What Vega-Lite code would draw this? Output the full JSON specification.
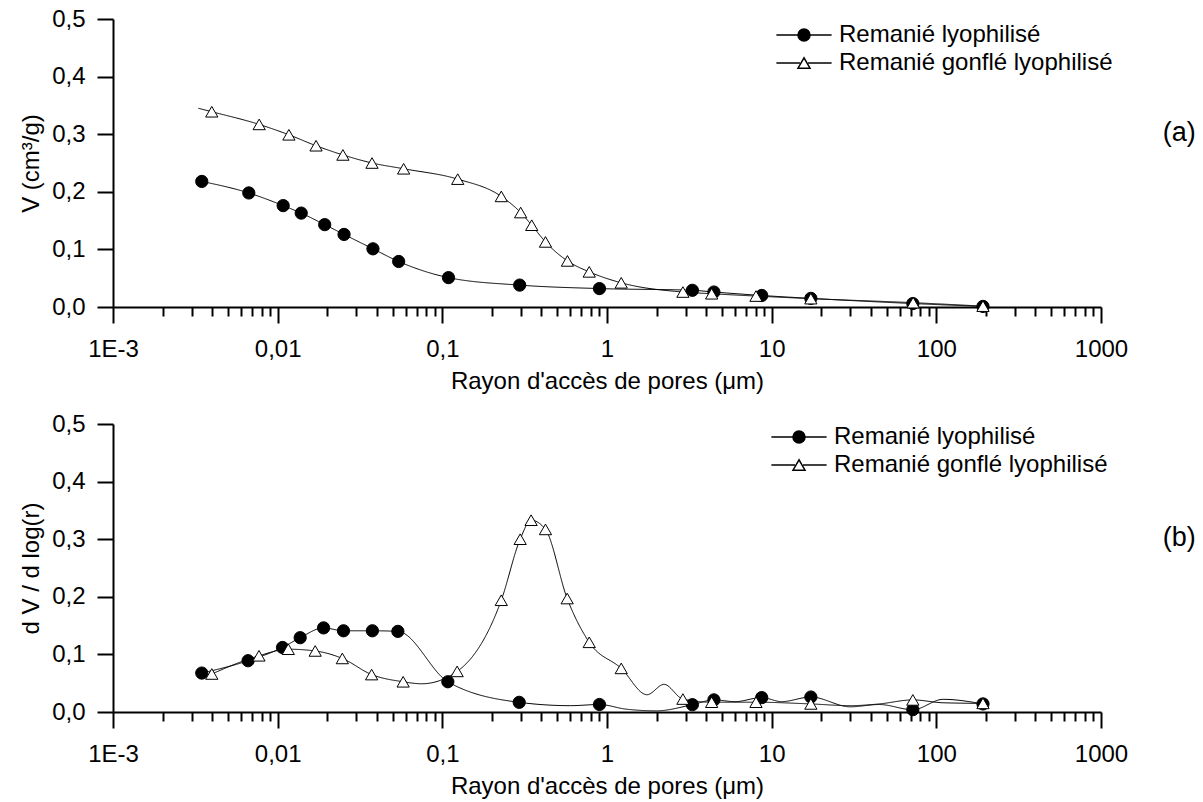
{
  "$schema": "https://vega.github.io/schema/vega-lite/v6.json",
  "padding": {"left": 19, "top": 7, "right": 5, "bottom": 5},
  "spacing": 19,
  "resolve": {
    "scale": {"strokeDash": "independent", "shape": "independent", "fill": "independent"},
    "legend": {"strokeDash": "independent", "shape": "independent", "fill": "independent"}
  },
  "config": {
    "font": "Liberation Sans",
    "view": {"stroke": null},
    "axis": {
      "domainColor": "black", "domainWidth": 2, "tickColor": "black", "tickWidth": 2,
      "labelColor": "black", "labelFontSize": 24, "labelFont": "Liberation Sans",
      "titleColor": "black", "titleFontSize": 24, "titleFontWeight": "normal", "titleFont": "Liberation Sans",
      "grid": false, "labelOverlap": false, "labelFlush": false
    },
    "axisX": {"labelPadding": 14, "titlePadding": 8},
    "axisY": {"labelPadding": 12, "titlePadding": 8},
    "legend": {"labelFontSize": 24, "labelColor": "black", "labelFont": "Liberation Sans", "labelLimit": 600}
  },
  "datasets": {
    "a": [
      {"x": 0.00346, "y": 0.218, "s": "Remanié lyophilisé", "m": 1},
      {"x": 0.00668, "y": 0.198, "s": "Remanié lyophilisé", "m": 1},
      {"x": 0.0108, "y": 0.176, "s": "Remanié lyophilisé", "m": 1},
      {"x": 0.0139, "y": 0.163, "s": "Remanié lyophilisé", "m": 1},
      {"x": 0.0193, "y": 0.143, "s": "Remanié lyophilisé", "m": 1},
      {"x": 0.0253, "y": 0.126, "s": "Remanié lyophilisé", "m": 1},
      {"x": 0.0379, "y": 0.101, "s": "Remanié lyophilisé", "m": 1},
      {"x": 0.0543, "y": 0.079, "s": "Remanié lyophilisé", "m": 1},
      {"x": 0.109, "y": 0.051, "s": "Remanié lyophilisé", "m": 1},
      {"x": 0.295, "y": 0.038, "s": "Remanié lyophilisé", "m": 1},
      {"x": 0.9, "y": 0.032, "s": "Remanié lyophilisé", "m": 1},
      {"x": 3.3, "y": 0.029, "s": "Remanié lyophilisé", "m": 1},
      {"x": 4.46, "y": 0.026, "s": "Remanié lyophilisé", "m": 1},
      {"x": 8.7, "y": 0.02, "s": "Remanié lyophilisé", "m": 1},
      {"x": 17.3, "y": 0.015, "s": "Remanié lyophilisé", "m": 1},
      {"x": 72, "y": 0.006, "s": "Remanié lyophilisé", "m": 1},
      {"x": 192, "y": 0.001, "s": "Remanié lyophilisé", "m": 1},
      {"x": 0.0033, "y": 0.345, "s": "Remanié gonflé lyophilisé", "m": 0},
      {"x": 0.00398, "y": 0.339, "s": "Remanié gonflé lyophilisé", "m": 1},
      {"x": 0.00772, "y": 0.317, "s": "Remanié gonflé lyophilisé", "m": 1},
      {"x": 0.0117, "y": 0.299, "s": "Remanié gonflé lyophilisé", "m": 1},
      {"x": 0.0171, "y": 0.28, "s": "Remanié gonflé lyophilisé", "m": 1},
      {"x": 0.0249, "y": 0.264, "s": "Remanié gonflé lyophilisé", "m": 1},
      {"x": 0.0374, "y": 0.25, "s": "Remanié gonflé lyophilisé", "m": 1},
      {"x": 0.0582, "y": 0.24, "s": "Remanié gonflé lyophilisé", "m": 1},
      {"x": 0.124, "y": 0.222, "s": "Remanié gonflé lyophilisé", "m": 1},
      {"x": 0.228, "y": 0.192, "s": "Remanié gonflé lyophilisé", "m": 1},
      {"x": 0.299, "y": 0.164, "s": "Remanié gonflé lyophilisé", "m": 1},
      {"x": 0.349, "y": 0.142, "s": "Remanié gonflé lyophilisé", "m": 1},
      {"x": 0.423, "y": 0.113, "s": "Remanié gonflé lyophilisé", "m": 1},
      {"x": 0.575, "y": 0.08, "s": "Remanié gonflé lyophilisé", "m": 1},
      {"x": 0.78, "y": 0.061, "s": "Remanié gonflé lyophilisé", "m": 1},
      {"x": 1.22, "y": 0.042, "s": "Remanié gonflé lyophilisé", "m": 1},
      {"x": 2.89, "y": 0.026, "s": "Remanié gonflé lyophilisé", "m": 1},
      {"x": 4.32, "y": 0.023, "s": "Remanié gonflé lyophilisé", "m": 1},
      {"x": 8.03, "y": 0.019, "s": "Remanié gonflé lyophilisé", "m": 1},
      {"x": 17.3, "y": 0.0145, "s": "Remanié gonflé lyophilisé", "m": 1},
      {"x": 72.3, "y": 0.0075, "s": "Remanié gonflé lyophilisé", "m": 1},
      {"x": 192, "y": 0.0015, "s": "Remanié gonflé lyophilisé", "m": 1}
    ],
    "b": [
      {"x": 0.00346, "y": 0.0676, "s": "Remanié lyophilisé", "m": 1},
      {"x": 0.00661, "y": 0.089, "s": "Remanié lyophilisé", "m": 1},
      {"x": 0.0107, "y": 0.112, "s": "Remanié lyophilisé", "m": 1},
      {"x": 0.0137, "y": 0.129, "s": "Remanié lyophilisé", "m": 1},
      {"x": 0.019, "y": 0.146, "s": "Remanié lyophilisé", "m": 1},
      {"x": 0.0251, "y": 0.141, "s": "Remanié lyophilisé", "m": 1},
      {"x": 0.0376, "y": 0.141, "s": "Remanié lyophilisé", "m": 1},
      {"x": 0.0537, "y": 0.14, "s": "Remanié lyophilisé", "m": 1},
      {"x": 0.108, "y": 0.0525, "s": "Remanié lyophilisé", "m": 1},
      {"x": 0.293, "y": 0.0168, "s": "Remanié lyophilisé", "m": 1},
      {"x": 0.6, "y": 0.011, "s": "Remanié lyophilisé", "m": 0},
      {"x": 0.9, "y": 0.013, "s": "Remanié lyophilisé", "m": 1},
      {"x": 1.3, "y": 0.005, "s": "Remanié lyophilisé", "m": 0},
      {"x": 2.0, "y": 0.002, "s": "Remanié lyophilisé", "m": 0},
      {"x": 3.3, "y": 0.0127, "s": "Remanié lyophilisé", "m": 1},
      {"x": 4.46, "y": 0.021, "s": "Remanié lyophilisé", "m": 1},
      {"x": 6.0, "y": 0.018, "s": "Remanié lyophilisé", "m": 0},
      {"x": 8.7, "y": 0.025, "s": "Remanié lyophilisé", "m": 1},
      {"x": 11.5, "y": 0.018, "s": "Remanié lyophilisé", "m": 0},
      {"x": 17.3, "y": 0.026, "s": "Remanié lyophilisé", "m": 1},
      {"x": 30, "y": 0.009, "s": "Remanié lyophilisé", "m": 0},
      {"x": 45, "y": 0.013, "s": "Remanié lyophilisé", "m": 0},
      {"x": 72, "y": 0.004, "s": "Remanié lyophilisé", "m": 1},
      {"x": 110, "y": 0.022, "s": "Remanié lyophilisé", "m": 0},
      {"x": 192, "y": 0.014, "s": "Remanié lyophilisé", "m": 1},
      {"x": 0.00398, "y": 0.066, "s": "Remanié gonflé lyophilisé", "m": 1},
      {"x": 0.0077, "y": 0.0976, "s": "Remanié gonflé lyophilisé", "m": 1},
      {"x": 0.0116, "y": 0.109, "s": "Remanié gonflé lyophilisé", "m": 1},
      {"x": 0.0169, "y": 0.106, "s": "Remanié gonflé lyophilisé", "m": 1},
      {"x": 0.0247, "y": 0.093, "s": "Remanié gonflé lyophilisé", "m": 1},
      {"x": 0.0372, "y": 0.065, "s": "Remanié gonflé lyophilisé", "m": 1},
      {"x": 0.0578, "y": 0.0525, "s": "Remanié gonflé lyophilisé", "m": 1},
      {"x": 0.075, "y": 0.049, "s": "Remanié gonflé lyophilisé", "m": 0},
      {"x": 0.123, "y": 0.0705, "s": "Remanié gonflé lyophilisé", "m": 1},
      {"x": 0.228, "y": 0.194, "s": "Remanié gonflé lyophilisé", "m": 1},
      {"x": 0.297, "y": 0.3, "s": "Remanié gonflé lyophilisé", "m": 1},
      {"x": 0.346, "y": 0.333, "s": "Remanié gonflé lyophilisé", "m": 1},
      {"x": 0.423, "y": 0.317, "s": "Remanié gonflé lyophilisé", "m": 1},
      {"x": 0.573, "y": 0.197, "s": "Remanié gonflé lyophilisé", "m": 1},
      {"x": 0.78, "y": 0.121, "s": "Remanié gonflé lyophilisé", "m": 1},
      {"x": 1.22, "y": 0.0757, "s": "Remanié gonflé lyophilisé", "m": 1},
      {"x": 1.75, "y": 0.03, "s": "Remanié gonflé lyophilisé", "m": 0},
      {"x": 2.22, "y": 0.048, "s": "Remanié gonflé lyophilisé", "m": 0},
      {"x": 2.89, "y": 0.0225, "s": "Remanié gonflé lyophilisé", "m": 1},
      {"x": 4.32, "y": 0.017, "s": "Remanié gonflé lyophilisé", "m": 1},
      {"x": 8.03, "y": 0.017, "s": "Remanié gonflé lyophilisé", "m": 1},
      {"x": 17.3, "y": 0.014, "s": "Remanié gonflé lyophilisé", "m": 1},
      {"x": 30, "y": 0.011, "s": "Remanié gonflé lyophilisé", "m": 0},
      {"x": 45, "y": 0.014, "s": "Remanié gonflé lyophilisé", "m": 0},
      {"x": 72, "y": 0.021, "s": "Remanié gonflé lyophilisé", "m": 1},
      {"x": 110, "y": 0.016, "s": "Remanié gonflé lyophilisé", "m": 0},
      {"x": 192, "y": 0.015, "s": "Remanié gonflé lyophilisé", "m": 1}
    ]
  },
  "vconcat": [
    {
      "width": 988, "height": 288,
      "data": {"name": "a"},
      "title": {"text": "(a)", "orient": "right", "angle": 0, "anchor": "middle", "align": "left", "baseline": "middle", "offset": 2, "dy": -30, "fontSize": 27, "fontWeight": "normal", "font": "Liberation Sans", "color": "black"},
      "layer": [
        {
          "mark": {"type": "line", "color": "black", "strokeWidth": 1, "interpolate": "monotone"},
          "encoding": {
            "x": {"field": "x", "type": "quantitative", "scale": {"type": "log", "domain": [0.001, 1000], "nice": false},
              "axis": {"title": "Rayon d'accès de pores (μm)",
                "values": [0.001,0.002,0.003,0.004,0.005,0.006,0.007,0.008,0.009,0.01,0.02,0.03,0.04,0.05,0.06,0.07,0.08,0.09,0.1,0.2,0.3,0.4,0.5,0.6,0.7,0.8,0.9,1,2,3,4,5,6,7,8,9,10,20,30,40,50,60,70,80,90,100,200,300,400,500,600,700,800,900,1000],
                "labelExpr": "abs(log(datum.value)/LN10 - round(log(datum.value)/LN10)) < 0.001 ? (datum.value < 0.005 ? '1E-3' : replace(toString(datum.value), '.', ',')) : ''",
                "tickSize": {"condition": {"test": "abs(log(datum.value)/LN10 - round(log(datum.value)/LN10)) < 0.001", "value": 16}, "value": 9}}},
            "y": {"field": "y", "type": "quantitative", "scale": {"domain": [0, 0.5], "nice": false},
              "axis": {"title": "V (cm³/g)",
                "values": [0,0.05,0.1,0.15,0.2,0.25,0.3,0.35,0.4,0.45,0.5],
                "labelExpr": "abs(datum.value*10 - round(datum.value*10)) < 0.001 ? replace(format(datum.value, '.1f'), '.', ',') : ''",
                "tickSize": {"condition": {"test": "abs(datum.value*10 - round(datum.value*10)) < 0.001", "value": 16}, "value": 9}}},
            "strokeDash": {"field": "s", "type": "nominal",
              "scale": {"domain": ["Remanié lyophilisé", "Remanié gonflé lyophilisé", "-"], "range": [[1, 0], [1, 0], [1, 0]]},
              "legend": {"values": ["Remanié lyophilisé", "Remanié gonflé lyophilisé"], "title": null, "orient": "none", "legendX": 679, "legendY": 4, "padding": 0,
                "symbolType": "M-4.6,0H-0.67M0.67,0H4.6", "symbolSize": 144, "symbolStrokeWidth": 1.3, "symbolStrokeColor": "black",
                "labelOffset": 23, "rowPadding": 4, "labelOpacity": 0}}
          }
        },
        {
          "transform": [{"filter": "datum.m == 1"}],
          "mark": {"type": "point", "filled": true, "size": 150, "stroke": "black", "strokeWidth": 1, "opacity": 1},
          "encoding": {
            "x": {"field": "x", "type": "quantitative"},
            "y": {"field": "y", "type": "quantitative"},
            "shape": {"field": "s", "type": "nominal", "scale": {"domain": ["Remanié lyophilisé", "Remanié gonflé lyophilisé"], "range": ["circle", "triangle-up"]},
              "legend": {"title": null, "orient": "none", "legendX": 679, "legendY": 4, "padding": 0, "symbolSize": 144, "labelOffset": 23, "rowPadding": 4}},
            "fill": {"field": "s", "type": "nominal", "scale": {"domain": ["Remanié lyophilisé", "Remanié gonflé lyophilisé"], "range": ["black", "white"]}, "legend": null}
          }
        }
      ]
    },
    {
      "width": 988, "height": 288,
      "data": {"name": "b"},
      "title": {"text": "(b)", "orient": "right", "angle": 0, "anchor": "middle", "align": "left", "baseline": "middle", "offset": 2, "dy": -30, "fontSize": 27, "fontWeight": "normal", "font": "Liberation Sans", "color": "black"},
      "layer": [
        {
          "mark": {"type": "line", "color": "black", "strokeWidth": 1, "interpolate": "monotone"},
          "encoding": {
            "x": {"field": "x", "type": "quantitative", "scale": {"type": "log", "domain": [0.001, 1000], "nice": false},
              "axis": {"title": "Rayon d'accès de pores (μm)",
                "values": [0.001,0.002,0.003,0.004,0.005,0.006,0.007,0.008,0.009,0.01,0.02,0.03,0.04,0.05,0.06,0.07,0.08,0.09,0.1,0.2,0.3,0.4,0.5,0.6,0.7,0.8,0.9,1,2,3,4,5,6,7,8,9,10,20,30,40,50,60,70,80,90,100,200,300,400,500,600,700,800,900,1000],
                "labelExpr": "abs(log(datum.value)/LN10 - round(log(datum.value)/LN10)) < 0.001 ? (datum.value < 0.005 ? '1E-3' : replace(toString(datum.value), '.', ',')) : ''",
                "tickSize": {"condition": {"test": "abs(log(datum.value)/LN10 - round(log(datum.value)/LN10)) < 0.001", "value": 16}, "value": 9}}},
            "y": {"field": "y", "type": "quantitative", "scale": {"domain": [0, 0.5], "nice": false},
              "axis": {"title": "d V / d log(r)",
                "values": [0,0.05,0.1,0.15,0.2,0.25,0.3,0.35,0.4,0.45,0.5],
                "labelExpr": "abs(datum.value*10 - round(datum.value*10)) < 0.001 ? replace(format(datum.value, '.1f'), '.', ',') : ''",
                "tickSize": {"condition": {"test": "abs(datum.value*10 - round(datum.value*10)) < 0.001", "value": 16}, "value": 9}}},
            "strokeDash": {"field": "s", "type": "nominal",
              "scale": {"domain": ["Remanié lyophilisé", "Remanié gonflé lyophilisé", "-"], "range": [[1, 0], [1, 0], [1, 0]]},
              "legend": {"values": ["Remanié lyophilisé", "Remanié gonflé lyophilisé"], "title": null, "orient": "none", "legendX": 674, "legendY": 1, "padding": 0,
                "symbolType": "M-4.6,0H-0.67M0.67,0H4.6", "symbolSize": 144, "symbolStrokeWidth": 1.3, "symbolStrokeColor": "black",
                "labelOffset": 23, "rowPadding": 4, "labelOpacity": 0}}
          }
        },
        {
          "transform": [{"filter": "datum.m == 1"}],
          "mark": {"type": "point", "filled": true, "size": 150, "stroke": "black", "strokeWidth": 1, "opacity": 1},
          "encoding": {
            "x": {"field": "x", "type": "quantitative"},
            "y": {"field": "y", "type": "quantitative"},
            "shape": {"field": "s", "type": "nominal", "scale": {"domain": ["Remanié lyophilisé", "Remanié gonflé lyophilisé"], "range": ["circle", "triangle-up"]},
              "legend": {"title": null, "orient": "none", "legendX": 674, "legendY": 1, "padding": 0, "symbolSize": 144, "labelOffset": 23, "rowPadding": 4}},
            "fill": {"field": "s", "type": "nominal", "scale": {"domain": ["Remanié lyophilisé", "Remanié gonflé lyophilisé"], "range": ["black", "white"]}, "legend": null}
          }
        }
      ]
    }
  ]
}
